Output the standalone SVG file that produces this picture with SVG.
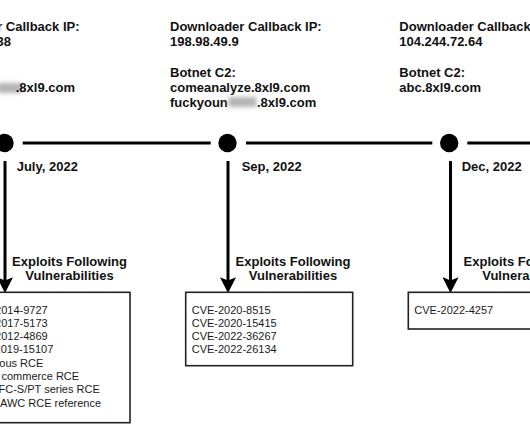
<svg xmlns="http://www.w3.org/2000/svg" width="530" height="442" viewBox="0 0 530 442">
  <style>
    text { font-family: "Liberation Sans", Arial, sans-serif; fill: #111; }
    .b { font-weight: bold; font-size: 13px; }
    .r { font-size: 11px; fill: #1a1a1a; }
    .seg { stroke: #000; stroke-width: 3; fill: none; }
    .dot { fill: #000; }
    .box { fill: #fff; stroke: #222; stroke-width: 1.6; }
    .blur { fill: #b4b4b4; filter: url(#bl); }
  </style>
  <defs>
    <filter id="bl" x="-30%" y="-50%" width="160%" height="200%">
      <feGaussianBlur stdDeviation="2"/>
    </filter>
    <marker id="ah" markerWidth="16" markerHeight="16" refX="6" refY="7" orient="auto" markerUnits="userSpaceOnUse" viewBox="0 0 14 14">
      <path d="M0,0 L14,7 L0,14 L3,7 z" fill="#000"/>
    </marker>
  </defs>
  <rect width="530" height="442" fill="#fff"/>

  <g id="connectors">
    <line class="seg" x1="22.7" y1="143" x2="210.7" y2="143"/>
    <line class="seg" x1="246" y1="143" x2="432.3" y2="143"/>
    <line class="seg" x1="467.3" y1="143" x2="532" y2="143"/>
    <line class="seg" x1="5" y1="161" x2="5" y2="284" marker-end="url(#ah)"/>
    <line class="seg" x1="228" y1="161" x2="228" y2="284" marker-end="url(#ah)"/>
    <line class="seg" x1="450.5" y1="161" x2="450.5" y2="284" marker-end="url(#ah)"/>
  </g>

  <g id="info-july">
    <text class="b" x="79.5" y="31" text-anchor="end">r Callback IP:</text>
    <text class="b" x="11" y="46.2" text-anchor="end">38</text>
    <rect class="blur" x="-2" y="83" width="24" height="10"/>
    <text class="b" x="75" y="91.9" text-anchor="end">.8xl9.com</text>
  </g>
  <g id="info-sep">
    <text class="b" x="170" y="31">Downloader Callback IP:</text>
    <text class="b" x="170" y="46.2">198.98.49.9</text>
    <text class="b" x="170" y="76.6">Botnet C2:</text>
    <text class="b" x="170" y="91.9">comeanalyze.8xl9.com</text>
    <text class="b" x="170" y="107.2">fuckyoun</text>
    <rect class="blur" x="228.5" y="97" width="28" height="10"/>
    <text class="b" x="257" y="107.2">.8xl9.com</text>
  </g>
  <g id="info-dec">
    <text class="b" x="399.3" y="31">Downloader Callback IP:</text>
    <text class="b" x="399.3" y="46.2">104.244.72.64</text>
    <text class="b" x="399.3" y="76.6">Botnet C2:</text>
    <text class="b" x="399.3" y="91.9">abc.8xl9.com</text>
  </g>

  <g id="event-july">
    <circle class="dot" cx="4.5" cy="143" r="9.2"/>
    <text class="b" x="16.7" y="170.5">July, 2022</text>
  </g>
  <g id="event-sep">
    <circle class="dot" cx="227.5" cy="143" r="9.2"/>
    <text class="b" x="241.7" y="170.5">Sep, 2022</text>
  </g>
  <g id="event-dec">
    <circle class="dot" cx="449.2" cy="143" r="9.2"/>
    <text class="b" x="461.7" y="170.5">Dec, 2022</text>
  </g>

  <g id="label-july">
    <text class="b" x="69.5" y="265.5" text-anchor="middle">Exploits Following</text>
    <text class="b" x="69.5" y="280" text-anchor="middle">Vulnerabilities</text>
  </g>
  <g id="label-sep">
    <text class="b" x="293" y="265.5" text-anchor="middle">Exploits Following</text>
    <text class="b" x="293" y="280" text-anchor="middle">Vulnerabilities</text>
  </g>
  <g id="label-dec">
    <text class="b" x="521" y="265.5" text-anchor="middle">Exploits Following</text>
    <text class="b" x="521" y="280" text-anchor="middle">Vulnerability</text>
  </g>

  <g id="box-july">
    <rect class="box" x="-40" y="292.3" width="170" height="130.4"/>
    <text class="r" x="-4.9" y="313.5">2014-9727</text>
    <text class="r" x="-4.9" y="326.8">2017-5173</text>
    <text class="r" x="-4.9" y="340.1">2012-4869</text>
    <text class="r" x="-5.4" y="353.4">2019-15107</text>
    <text class="r" x="-0.7" y="366.7">ous RCE</text>
    <text class="r" x="1.5" y="380">commerce RCE</text>
    <text class="r" x="-1.5" y="393.3">FC-S/PT series RCE</text>
    <text class="r" x="0" y="406.6">AWC RCE reference</text>
  </g>
  <g id="box-sep">
    <rect class="box" x="185.7" y="292.3" width="167" height="73.4"/>
    <text class="r" x="191.7" y="313.5">CVE-2020-8515</text>
    <text class="r" x="191.7" y="326.8">CVE-2020-15415</text>
    <text class="r" x="191.7" y="340.1">CVE-2022-36267</text>
    <text class="r" x="191.7" y="353.4">CVE-2022-26134</text>
  </g>
  <g id="box-dec">
    <rect class="box" x="408.3" y="292.3" width="140" height="36.7"/>
    <text class="r" x="414.3" y="313.5">CVE-2022-4257</text>
  </g>
</svg>
